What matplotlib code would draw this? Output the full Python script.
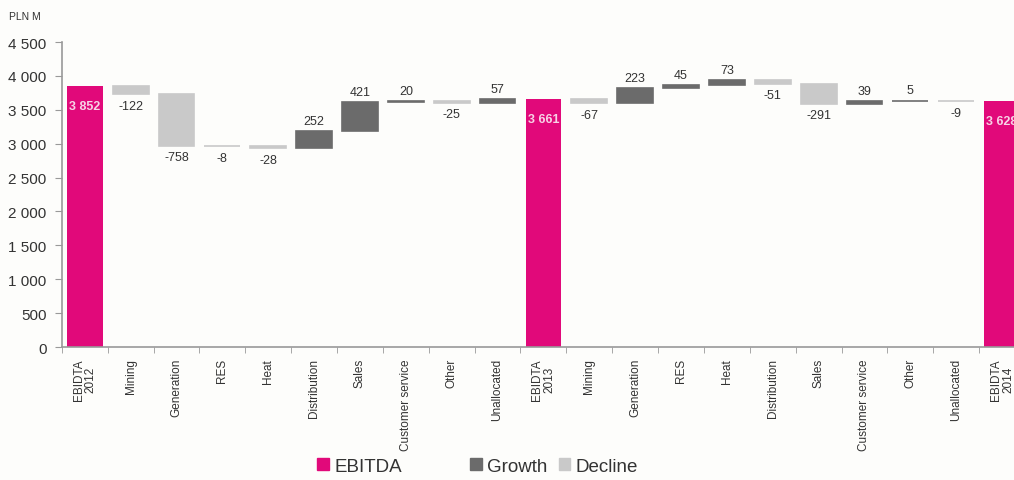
import matplotlib
matplotlib.use("Agg")
import matplotlib.pyplot as plt
from matplotlib.patches import Patch
from matplotlib.ticker import FuncFormatter, FixedLocator

plt.rcParams["font.family"] = ["Liberation Sans", "DejaVu Sans"]

categories = ["EBIDTA\n2012", "Mining", "Generation", "RES", "Heat", "Distribution",
              "Sales", "Customer service", "Other", "Unallocated", "EBIDTA\n2013",
              "Mining", "Generation", "RES", "Heat", "Distribution", "Sales",
              "Customer service", "Other", "Unallocated", "EBIDTA\n2014"]
# None marks a total bar; numbers are changes
changes = [None, -122, -758, -8, -28, 252, 421, 20, -25, 57, None,
           -67, 223, 45, 73, -51, -291, 39, 5, -9, None]
totals = {0: 3852, 10: 3661, 20: 3628}

PINK = "#E1097A"
GROWTH = "#6B6B6B"
DECLINE = "#C9C9C9"
TXT = "#333333"
BG = "#FDFDFB"

fig = plt.figure(figsize=(10.14, 4.81), dpi=100, facecolor=BG)
ax = fig.add_axes([0.061, 0.2765, 0.939, 0.634])
ax.set_facecolor(BG)

w = 0.78
level = 0
for i, (cat, ch) in enumerate(zip(categories, changes)):
    if ch is None:
        val = totals[i]
        ax.bar(i, val, width=w, color=PINK, linewidth=0, zorder=2)
        ax.text(i, val - 300, f"{val:,}".replace(",", " "), ha="center", va="center",
                color="#F7D3E6", fontsize=9, fontweight="bold", zorder=3)
        level = val
    else:
        start, end = level, level + ch
        color = GROWTH if ch > 0 else DECLINE
        ax.bar(i, ch, bottom=start, width=w, color=color, edgecolor=color,
               linewidth=1.2, zorder=2)
        if ch > 0:
            ax.text(i, end + 150, f"{ch}", ha="center", va="center", color=TXT, fontsize=9)
        else:
            ax.text(i, end - 170, f"{ch}", ha="center", va="center", color=TXT, fontsize=9)
        level = end

ax.set_xlim(-0.5, 20.26)
ax.set_ylim(0, 4500)
ax.set_yticks(range(0, 4501, 500))
ax.yaxis.set_major_formatter(FuncFormatter(lambda v, p: f"{int(v):,}".replace(",", " ")))
ax.set_xticks(range(len(categories)))
ax.set_xticklabels(categories, rotation=90, fontsize=8.5, color=TXT, ha="center",
                   va="top", multialignment="center", linespacing=1.0)
ax.tick_params(axis="x", length=0, pad=8)
ax.xaxis.set_minor_locator(FixedLocator([i + 0.5 for i in range(-1, 21)]))
ax.tick_params(axis="x", which="minor", length=4, color="#999999", direction="out")
ax.tick_params(axis="y", length=5, color="#999999", labelsize=11, labelcolor="#333333", pad=6)
for s in ["top", "right"]:
    ax.spines[s].set_visible(False)
for s in ["left", "bottom"]:
    ax.spines[s].set_color("#999999")
    ax.spines[s].set_linewidth(1.2)

fig.text(0.009, 0.965, "PLN M", fontsize=7.5, color=TXT, ha="left", va="center")

leg_kw = dict(frameon=False, fontsize=13.5, handlelength=0.6, handleheight=0.6,
              handletextpad=0.3, columnspacing=0.6, borderaxespad=0, borderpad=0)
leg1 = fig.legend(handles=[Patch(color=PINK, label="EBITDA")], loc="center left",
                  bbox_to_anchor=(0.313, 0.028), **leg_kw)
leg2 = fig.legend(handles=[Patch(color=GROWTH, label="Growth"),
                           Patch(color=DECLINE, label="Decline")],
                  loc="center left", bbox_to_anchor=(0.464, 0.028), ncol=2, **leg_kw)
for lg in (leg1, leg2):
    for t in lg.get_texts():
        t.set_color(TXT)

fig.savefig("out.png", dpi=100, facecolor=fig.get_facecolor())
